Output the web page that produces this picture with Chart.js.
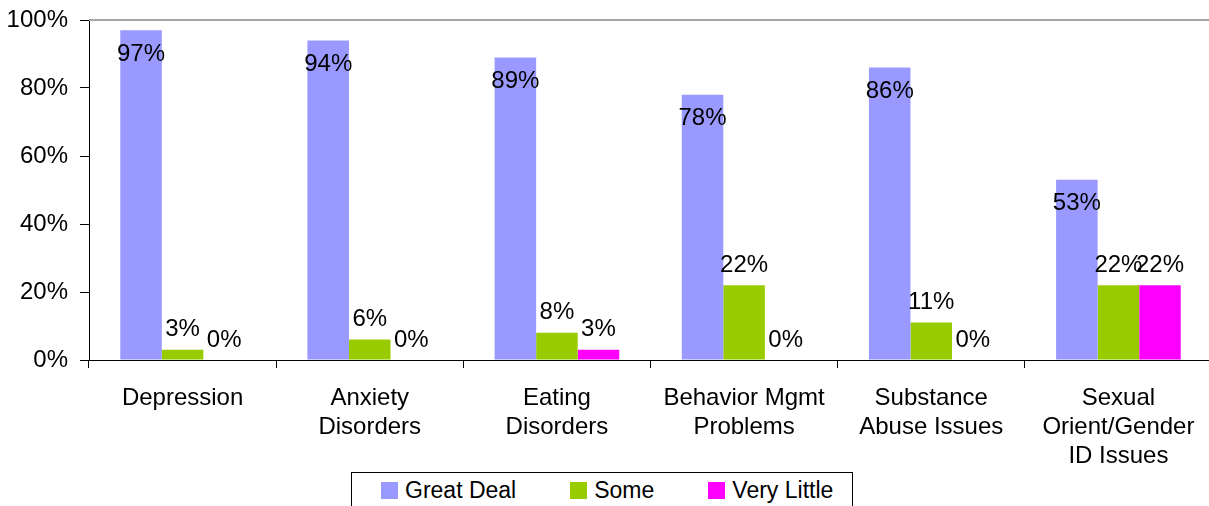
<!DOCTYPE html>
<html>
<head>
<meta charset="utf-8">
<script src="https://cdn.jsdelivr.net/npm/chart.js@4.4.1/dist/chart.umd.min.js"></script>
<style>
html,body{margin:0;padding:0;background:#fff;overflow:hidden;}
#wrap{position:relative;width:1212px;height:506px;}
#legend{position:absolute;left:351px;top:472px;width:502px;height:40px;border:1px solid #000;background:#fff;display:flex;align-items:center;padding-left:29px;padding-bottom:3px;box-sizing:border-box;font-family:"Liberation Sans",Arial,sans-serif;font-size:23px;color:#000;white-space:nowrap;}
#legend .item{display:flex;align-items:center;margin-right:54px;flex:none;}
#legend .sw{width:17px;height:17px;margin-right:7px;}
</style>
</head>
<body>
<div id="wrap">
  <canvas id="chart"></canvas>
  <div id="legend"></div>
</div>
<script>
const categories=[['Depression'],['Anxiety','Disorders'],['Eating','Disorders'],['Behavior Mgmt','Problems'],['Substance','Abuse Issues'],['Sexual','Orient/Gender','ID Issues']];
const seriesNames=['Great Deal','Some','Very Little'];
const greatDeal=[97,94,89,78,86,53];
const some=[3,6,8,22,11,22];
const veryLittle=[0,0,3,0,0,22];
const colors=['#9999FF','#99CC00','#FF00FF'];
const yTicks=[0,20,40,60,80,100];

const FONT='"Liberation Sans", Arial, sans-serif';

// value labels: first series sits inside the bar top, others above
const valueLabels={
  id:'valueLabels',
  afterDatasetsDraw(chart){
    const ctx=chart.ctx;
    ctx.save();
    ctx.font='24px '+FONT;
    ctx.fillStyle='#000';
    ctx.textAlign='center';
    ctx.textBaseline='middle';
    chart.data.datasets.forEach((ds,i)=>{
      chart.getDatasetMeta(i).data.forEach((bar,j)=>{
        const y=i===0?bar.y+24:bar.y-20;
        ctx.fillText(ds.data[j]+'%',bar.x,y);
      });
    });
    ctx.restore();
  }
};

// grey rule along the top of the plot
const topRule={
  id:'topRule',
  beforeDatasetsDraw(chart){
    const {ctx,chartArea}=chart;
    const y=chart.scales.y.getPixelForValue(100);
    ctx.save();
    ctx.strokeStyle='#a6a6a6';
    ctx.lineWidth=2;
    ctx.beginPath();
    ctx.moveTo(chartArea.left,y);
    ctx.lineTo(chart.width,y);
    ctx.stroke();
    ctx.restore();
  }
};

const chart=new Chart(document.getElementById('chart'),{
  type:'bar',
  data:{
    labels:categories,
    datasets:[
      {label:seriesNames[0],data:greatDeal,backgroundColor:colors[0]},
      {label:seriesNames[1],data:some,backgroundColor:colors[1]},
      {label:seriesNames[2],data:veryLittle,backgroundColor:colors[2]}
    ]
  },
  options:{
    responsive:true,
    maintainAspectRatio:false,
    animation:false,
    layout:{padding:{top:20,left:0,right:0,bottom:0}},
    datasets:{bar:{categoryPercentage:0.666,barPercentage:1,borderWidth:0}},
    plugins:{legend:{display:false},tooltip:{enabled:false}},
    scales:{
      x:{
        afterFit(s){s.height=146;},
        grid:{display:true,drawOnChartArea:false,offset:true,tickLength:8,color:'#000'},
        border:{color:'#000',width:1},
        ticks:{color:'#000',padding:16,font:{family:FONT,size:24,lineHeight:1.2},maxRotation:0,autoSkip:false}
      },
      y:{
        min:0,max:100,
        afterFit(s){s.width=89;s.paddingTop=0;s.paddingBottom=0;},
        afterBuildTicks(s){s.ticks=yTicks.map(v=>({value:v}));},
        grid:{display:true,drawOnChartArea:false,tickLength:9,color:'#000'},
        border:{color:'#000',width:1},
        ticks:{color:'#000',padding:12,font:{family:FONT,size:24,lineHeight:0.5},callback:v=>v+'%'}
      }
    }
  },
  plugins:[valueLabels,topRule]
});

// legend box built from the datasets
const lg=document.getElementById('legend');
chart.data.datasets.forEach(ds=>{
  const it=document.createElement('div');it.className='item';
  const sw=document.createElement('span');sw.className='sw';sw.style.background=ds.backgroundColor;
  const tx=document.createElement('span');tx.textContent=ds.label;
  it.appendChild(sw);it.appendChild(tx);lg.appendChild(it);
});
</script>
</body>
</html>
